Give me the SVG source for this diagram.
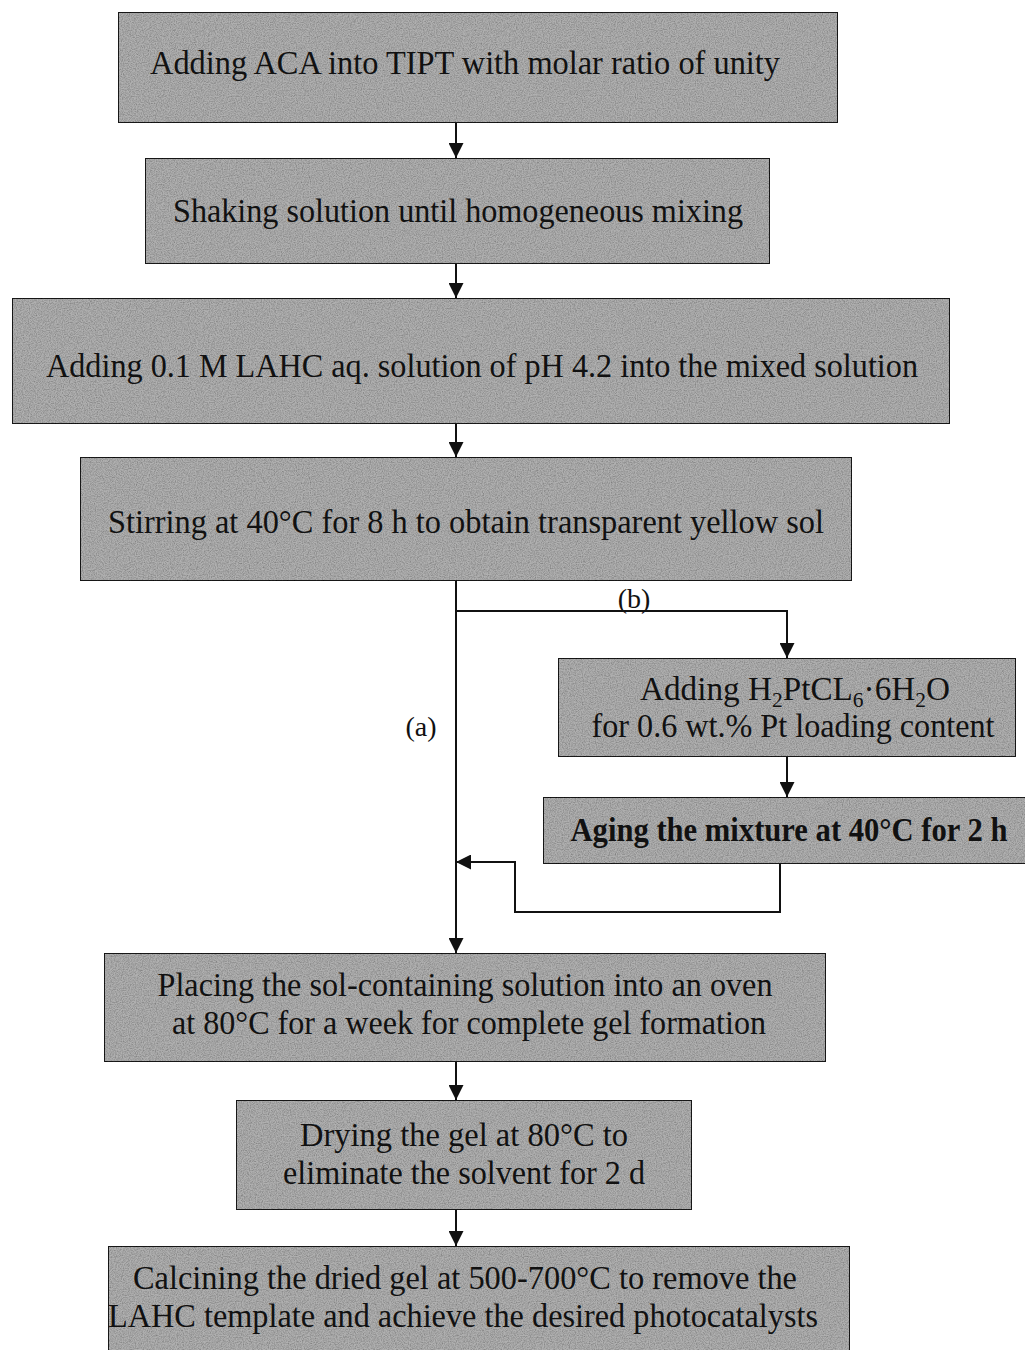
<svg xmlns="http://www.w3.org/2000/svg" width="1025" height="1350" viewBox="0 0 1025 1350">
<defs>
<filter id="grain" x="0" y="0" width="100%" height="100%">
<feTurbulence type="fractalNoise" baseFrequency="0.85" numOctaves="2" seed="5" result="n"/>
<feColorMatrix in="n" type="matrix" values="0 0 0 0 0  0 0 0 0 0  0 0 0 0 0  0.9 0 0 0 -0.3" result="dark"/>
<feComposite in="dark" in2="SourceGraphic" operator="in" result="d2"/>
<feMerge><feMergeNode in="SourceGraphic"/><feMergeNode in="d2"/></feMerge>
</filter>
<marker id="arr" viewBox="0 0 10 10" refX="10" refY="5" markerWidth="15" markerHeight="15" markerUnits="userSpaceOnUse" orient="auto">
<path d="M0,0 L10,5 L0,10 z" fill="#111"/>
</marker>
</defs>
<style>
.box{fill:#b0b0b0;stroke:#1a1a1a;stroke-width:2}
.t{font-family:"Liberation Serif","Times New Roman",serif;font-size:34px;fill:#111;text-anchor:middle}
.lbl{font-family:"Liberation Serif","Times New Roman",serif;font-size:28px;fill:#111;text-anchor:middle}
.c{fill:none;stroke:#111;stroke-width:2}
.s{font-size:22px}
</style>
<rect width="1025" height="1350" fill="#ffffff"/>
<g id="n1"><rect class="box" filter="url(#grain)" x="118" y="12" width="720" height="111"/><text class="t" x="465" y="74" textLength="630" lengthAdjust="spacingAndGlyphs">Adding ACA into TIPT with molar ratio of unity</text></g>
<g id="n2"><rect class="box" filter="url(#grain)" x="145" y="158" width="625" height="106"/><text class="t" x="458" y="222" textLength="570" lengthAdjust="spacingAndGlyphs">Shaking solution until homogeneous mixing</text></g>
<g id="n3"><rect class="box" filter="url(#grain)" x="12" y="298" width="938" height="126"/><text class="t" x="482" y="377" textLength="872" lengthAdjust="spacingAndGlyphs">Adding 0.1 M LAHC aq. solution of pH 4.2 into the mixed solution</text></g>
<g id="n4"><rect class="box" filter="url(#grain)" x="80" y="457" width="772" height="124"/><text class="t" x="466" y="533" textLength="716" lengthAdjust="spacingAndGlyphs">Stirring at 40°C for 8 h to obtain transparent yellow sol</text></g>
<g id="n5"><rect class="box" filter="url(#grain)" x="558" y="658" width="458" height="99"/><text class="t" x="795" y="700" textLength="310" lengthAdjust="spacingAndGlyphs">Adding H<tspan class="s" dy="7">2</tspan><tspan dy="-7">PtCL</tspan><tspan class="s" dy="7">6</tspan><tspan dy="-7">·6H</tspan><tspan class="s" dy="7">2</tspan><tspan dy="-7">O</tspan></text><text class="t" x="793" y="737" textLength="403" lengthAdjust="spacingAndGlyphs">for 0.6 wt.% Pt loading content</text></g>
<g id="n6"><rect class="box" filter="url(#grain)" x="543" y="797" width="490" height="67"/><text class="t" x="789" y="841" font-weight="bold" textLength="437" lengthAdjust="spacingAndGlyphs">Aging the mixture at 40°C for 2 h</text></g>
<g id="n7"><rect class="box" filter="url(#grain)" x="104" y="953" width="722" height="109"/><text class="t" x="465" y="996" textLength="615" lengthAdjust="spacingAndGlyphs">Placing the sol-containing solution into an oven</text><text class="t" x="469" y="1034" textLength="594" lengthAdjust="spacingAndGlyphs">at 80°C for a week for complete gel formation</text></g>
<g id="n8"><rect class="box" filter="url(#grain)" x="236" y="1100" width="456" height="110"/><text class="t" x="464" y="1146" textLength="328" lengthAdjust="spacingAndGlyphs">Drying the gel at 80°C to</text><text class="t" x="464" y="1184" textLength="362" lengthAdjust="spacingAndGlyphs">eliminate the solvent for 2 d</text></g>
<g id="n9"><rect class="box" filter="url(#grain)" x="108" y="1246" width="742" height="110"/><text class="t" x="465" y="1289" textLength="664" lengthAdjust="spacingAndGlyphs">Calcining the dried gel at 500-700°C to remove the</text><text class="t" x="463" y="1327" textLength="710" lengthAdjust="spacingAndGlyphs">LAHC template and achieve the desired photocatalysts</text></g>
<g id="connectors">
<line class="c" x1="456" y1="123" x2="456" y2="158" marker-end="url(#arr)"/>
<line class="c" x1="456" y1="264" x2="456" y2="298" marker-end="url(#arr)"/>
<line class="c" x1="456" y1="424" x2="456" y2="457" marker-end="url(#arr)"/>
<line class="c" x1="456" y1="581" x2="456" y2="953" marker-end="url(#arr)"/>
<polyline class="c" points="456,611 787,611 787,658" marker-end="url(#arr)"/>
<line class="c" x1="787" y1="757" x2="787" y2="797" marker-end="url(#arr)"/>
<polyline class="c" points="780,864 780,912 515,912 515,862 456,862" marker-end="url(#arr)"/>
<line class="c" x1="456" y1="1062" x2="456" y2="1100" marker-end="url(#arr)"/>
<line class="c" x1="456" y1="1210" x2="456" y2="1246" marker-end="url(#arr)"/>
<text class="lbl" x="634" y="608">(b)</text>
<text class="lbl" x="421" y="736">(a)</text>
</g>
</svg>
